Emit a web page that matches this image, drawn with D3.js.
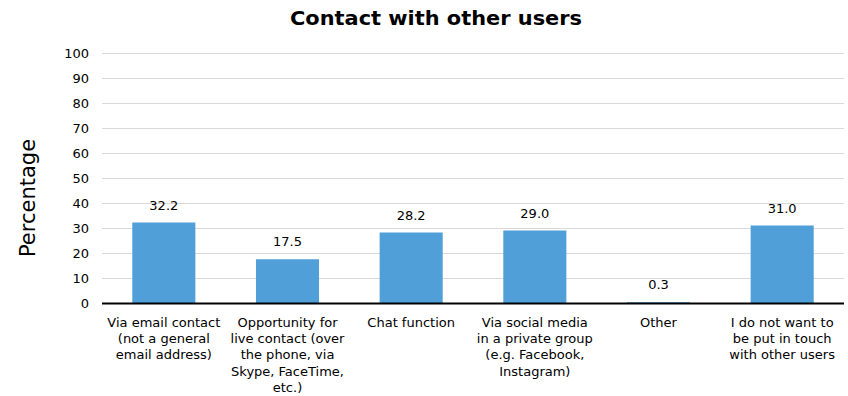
<!DOCTYPE html>
<html>
<head>
<meta charset="utf-8">
<script src="https://cdn.jsdelivr.net/npm/d3@7"></script>
<style>
  body { margin: 0; background: #fff; }
  text { font-family: "DejaVu Sans", Verdana, sans-serif; fill: #000; }
  .grid line { stroke: #d9d9d9; stroke-width: 1; }
</style>
</head>
<body>
<div id="chart"></div>
<script>
// chart data
const categories = [
  ['Via email contact', '(not a general', 'email address)'],
  ['Opportunity for', 'live contact (over', 'the phone, via', 'Skype, FaceTime,', 'etc.)'],
  ['Chat function'],
  ['Via social media', 'in a private group', '(e.g. Facebook,', 'Instagram)'],
  ['Other'],
  ['I do not want to', 'be put in touch', 'with other users']
];
const values = [32.2, 17.5, 28.2, 29.0, 0.3, 31.0];
const yTicks = [0, 10, 20, 30, 40, 50, 60, 70, 80, 90, 100];
const title = 'Contact with other users';
const yTitle = 'Percentage';

const width = 848, height = 396;
const margin = {top: 53, right: 4, bottom: 93, left: 102};

const svg = d3.select('#chart').append('svg')
    .attr('width', width)
    .attr('height', height);

const x = d3.scaleBand()
    .domain(d3.range(categories.length))
    .range([margin.left, width - margin.right])
    .paddingInner(0.49)
    .paddingOuter(0.245);

const y = d3.scaleLinear()
    .domain([0, 100])
    .range([height - margin.bottom, margin.top]);

// gridlines
svg.append('g')
    .attr('class', 'grid')
    .selectAll('line')
    .data(yTicks.filter(d => d > 0))
    .join('line')
    .attr('x1', margin.left)
    .attr('x2', width - margin.right)
    .attr('y1', d => Math.round(y(d)) + 0.5)
    .attr('y2', d => Math.round(y(d)) + 0.5);

// y axis labels
const yAxis = svg.append('g')
    .attr('transform', `translate(${margin.left - 13},0)`)
    .call(d3.axisLeft(y).tickValues(yTicks).tickSize(0).tickPadding(0));
yAxis.select('.domain').remove();
yAxis.selectAll('text')
    .style('font-family', '"DejaVu Sans", Verdana, sans-serif')
    .style('font-size', '13px')
    .attr('fill', '#000');

// bars
svg.append('g')
    .selectAll('rect')
    .data(values)
    .join('rect')
    .attr('x', (d, i) => x(i))
    .attr('width', x.bandwidth())
    .attr('y', d => y(d))
    .attr('height', d => y(0) - y(d))
    .attr('fill', '#509fd8');

// value labels
svg.append('g')
    .selectAll('text')
    .data(values)
    .join('text')
    .attr('x', (d, i) => x(i) + x.bandwidth() / 2)
    .attr('y', d => y(d) - 13)
    .attr('text-anchor', 'middle')
    .style('font-size', '13px')
    .text(d => d.toFixed(1));

// baseline
svg.append('line')
    .attr('x1', margin.left)
    .attr('x2', width - margin.right)
    .attr('y1', y(0) + 0.5)
    .attr('y2', y(0) + 0.5)
    .attr('stroke', '#000')
    .attr('stroke-width', 2);

// category labels
const catLabel = svg.append('g')
    .selectAll('text')
    .data(categories)
    .join('text')
    .attr('text-anchor', 'middle')
    .style('font-size', '13px');

catLabel.selectAll('tspan')
    .data((d, i) => d.map(line => ({line, i})))
    .join('tspan')
    .attr('x', d => x(d.i) + x.bandwidth() / 2)
    .attr('y', (d, j) => y(0) + 24 + j * 16.2)
    .text(d => d.line);

// title
svg.append('text')
    .attr('x', 436)
    .attr('y', 25)
    .attr('text-anchor', 'middle')
    .attr('textLength', 292)
    .attr('lengthAdjust', 'spacingAndGlyphs')
    .style('font-size', '20px')
    .style('font-weight', 'bold')
    .text(title);

// y axis title
svg.append('text')
    .attr('transform', `translate(35,${(y(0) + y(100)) / 2 + 20}) rotate(-90)`)
    .attr('text-anchor', 'middle')
    .style('font-size', '21px')
    .text(yTitle);
</script>
</body>
</html>
